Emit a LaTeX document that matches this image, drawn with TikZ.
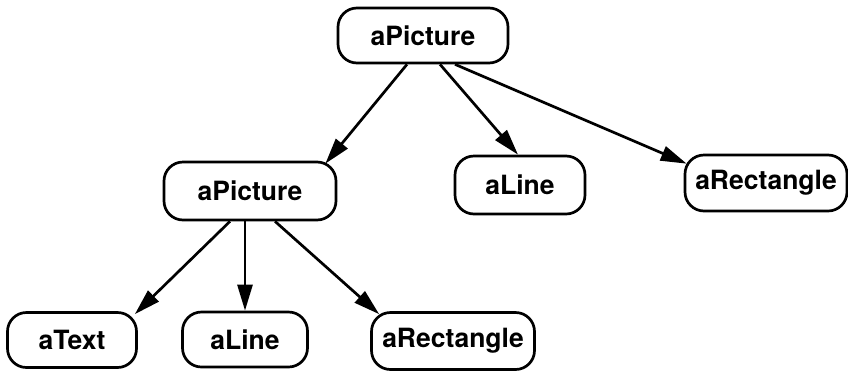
\documentclass[tikz,border=0pt]{standalone}
\usepackage{fontspec}
\setmainfont{TeX Gyre Heros}
\usetikzlibrary{arrows.meta}
\begin{document}
\begin{tikzpicture}[x=1pt,y=-1pt,
  obj/.style={draw,line width=2.7pt,rounded corners=19pt,inner sep=0pt,
    font=\fontsize{26.5pt}{30pt}\selectfont\bfseries,align=center},
  link/.style={line width=2.7pt,-{Triangle[length=26pt,width=15pt]}}]
\useasboundingbox (0,0) rectangle (848,373);
\node[obj,minimum width=170pt,minimum height=55pt] (p1) at (423,35.5) {aPicture};
\node[obj,minimum width=172pt,minimum height=58pt] (p2) at (250,191) {aPicture};
\node[obj,minimum width=130pt,minimum height=58pt] (l1) at (520,185) {aLine};
\node[obj,minimum width=162pt,minimum height=56pt] (r1) at (766,183) {aRectangle};
\node[obj,minimum width=129pt,minimum height=55pt] (t) at (72,340) {aText};
\node[obj,minimum width=125pt,minimum height=55pt] (l2) at (245,339.5) {aLine};
\node[obj,minimum width=163pt,minimum height=57pt] (r2) at (453,341) {aRectangle};
\draw[link] ([xshift=-16pt]p1.south) -- ([xshift=-12pt,yshift=-3pt]p2.north east);
\draw[link] ([xshift=17pt]p1.south) -- ([xshift=-2pt]l1.north);
\draw[link] ([xshift=32pt]p1.south) -- ([xshift=3pt,yshift=-10pt]r1.north west);
\draw[link] ([xshift=-20pt]p2.south) -- ([xshift=-3pt,yshift=-3pt]t.north east);
\draw[link] (p2.south -| l2.north) -- (l2.north);
\draw[link] ([xshift=25pt]p2.south) -- ([xshift=9pt,yshift=-3pt]r2.north west);
\end{tikzpicture}
\end{document}
